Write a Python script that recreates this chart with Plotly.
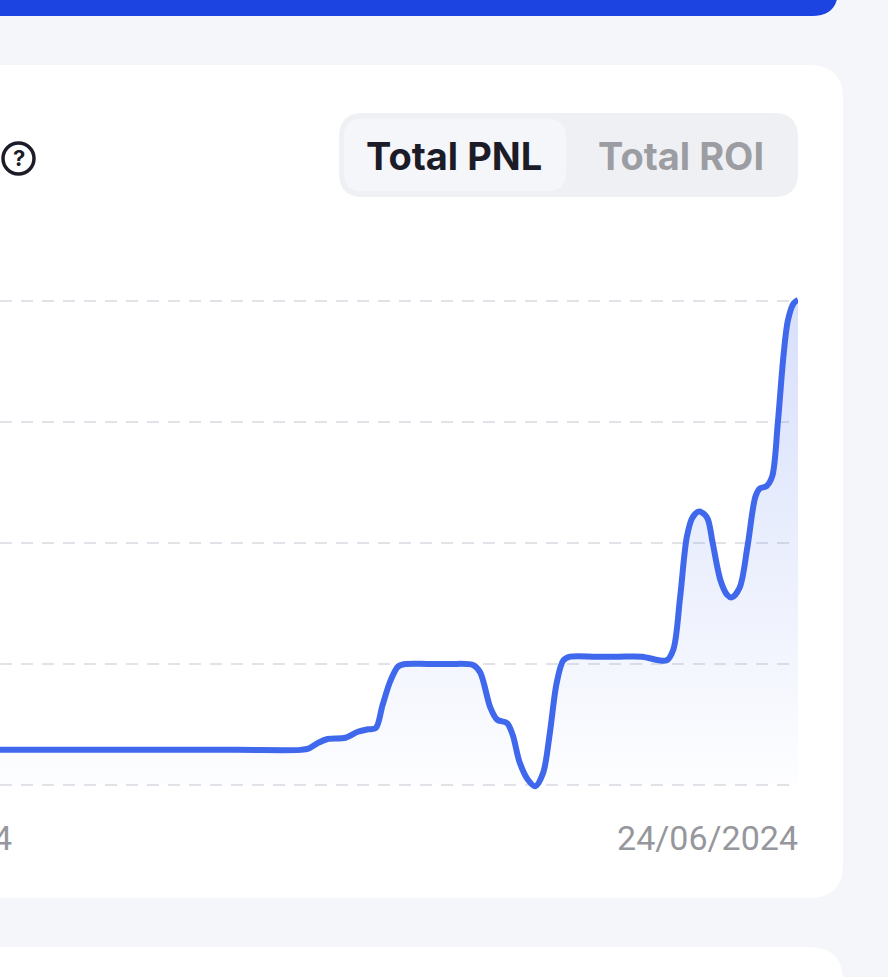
import plotly.graph_objects as go

# days relative to the last date on the axis
days = [-7.11, -6.0, -5.0, -4.43, -4.36, -4.27, -4.19, -4.03, -3.92, -3.83, -3.76, -3.70, -3.63, -3.56, -3.49,
        -3.3, -3.1, -2.89, -2.83, -2.74, -2.68, -2.59, -2.54, -2.48, -2.41, -2.34, -2.27, -2.21, -2.15,
        -2.09, -2.03, -1.8, -1.6, -1.39, -1.17, -1.11, -1.05, -0.99, -0.94, -0.88, -0.81, -0.76, -0.69,
        -0.63, -0.59, -0.52, -0.45, -0.38, -0.34, -0.28, -0.23, -0.18, -0.13, -0.09, -0.04, 0]
pnl = [0.29, 0.29, 0.29, 0.29, 0.30, 0.35, 0.38, 0.39, 0.44, 0.46, 0.47, 0.66, 0.86, 0.98, 1.00,
       1.00, 1.00, 0.99, 0.93, 0.64, 0.54, 0.51, 0.41, 0.19, 0.05, -0.01, 0.10, 0.43, 0.84,
       1.03, 1.06, 1.06, 1.06, 1.06, 1.03, 1.12, 1.55, 2.05, 2.21, 2.26, 2.21, 2.00, 1.69,
       1.57, 1.55, 1.63, 1.97, 2.38, 2.45, 2.47, 2.55, 2.99, 3.54, 3.84, 3.98, 4.01]
grid_vals = [0, 1, 2, 3, 4]
tick_days = [-7, 0]
tick_labels = ["17/06/2024", "24/06/2024"]

W = 888
H = 977


def px(x):
    return x / W


def py(y):
    return 1 - y / H


# rounded box as an svg path in paper coordinates
def box(x0, y0, x1, y1, r, color):
    p = (f"M {px(x0 + r)} {py(y0)} L {px(x1 - r)} {py(y0)} "
         f"Q {px(x1)} {py(y0)} {px(x1)} {py(y0 + r)} L {px(x1)} {py(y1 - r)} "
         f"Q {px(x1)} {py(y1)} {px(x1 - r)} {py(y1)} L {px(x0 + r)} {py(y1)} "
         f"Q {px(x0)} {py(y1)} {px(x0)} {py(y1 - r)} L {px(x0)} {py(y0 + r)} "
         f"Q {px(x0)} {py(y0)} {px(x0 + r)} {py(y0)} Z")
    return dict(type="path", path=p, xref="paper", yref="paper", fillcolor=color,
                line=dict(width=0), layer="below")


shapes = [
    box(-60, -60, 838, 16, 26, "#1c44e0"),
    box(-60, 65, 843, 898, 34, "#ffffff"),
    box(-60, 947, 843, 1100, 34, "#ffffff"),
    box(339, 113, 798, 197, 24, "#eff0f4"),
    box(344, 119, 566, 191, 18, "#f5f6fa"),
    dict(type="circle", xref="paper", yref="paper", x0=px(3), x1=px(34), y0=py(174), y1=py(143),
         line=dict(color="#1c1c28", width=3.5), layer="below"),
]

fig = go.Figure()
fig.add_trace(go.Scatter(
    x=days,
    y=pnl,
    mode="lines",
    line=dict(color="#3f68ec", width=6, shape="spline", smoothing=0.9),
    fill="tozeroy",
    fillgradient=dict(type="vertical",
                      colorscale=[[0, "rgba(63,104,236,0.01)"], [1, "rgba(63,104,236,0.21)"]]),
    hoverinfo="skip",
    showlegend=False,
))

fig.update_layout(
    width=W,
    height=H,
    margin=dict(l=0, r=0, t=0, b=0, autoexpand=False),
    paper_bgcolor="#f5f6fa",
    plot_bgcolor="rgba(0,0,0,0)",
    shapes=shapes,
    xaxis=dict(
        domain=[0, 798 / W],
        range=[-7.107, 0],
        automargin=False,
        showgrid=False,
        zeroline=False,
        showline=False,
        tickvals=tick_days,
        ticktext=tick_labels,
        ticks="",
        ticklabelposition="outside left",
        ticklabeloverflow="allow",
        ticklabelstandoff=20,
        tickfont=dict(family="Roboto", size=34, color="#96979c"),
    ),
    yaxis=dict(
        domain=[py(795), py(290)],
        range=[-0.083, 4.091],
        automargin=False,
        tickvals=grid_vals,
        showticklabels=False,
        zeroline=False,
        showline=False,
        gridcolor="#e2e3e9",
        griddash="12px,9px",
        gridwidth=1.5,
    ),
    annotations=[
        dict(text="<b>Total PNL</b>", x=px(454), y=py(156), xref="paper", yref="paper", showarrow=False,
             xanchor="center", yanchor="middle", font=dict(family="Inter", size=38, color="#1c1c28")),
        dict(text="<b>Total ROI</b>", x=px(680.5), y=py(156), xref="paper", yref="paper", showarrow=False,
             xanchor="center", yanchor="middle", font=dict(family="Inter", size=38, color="#9c9da2")),
        dict(text="<b>?</b>", x=px(18.5), y=py(158.5), xref="paper", yref="paper", showarrow=False,
             xanchor="center", yanchor="middle", font=dict(family="Inter", size=22, color="#1c1c28")),
    ],
)

fig.write_html("out.html", config=dict(displayModeBar=False),
               post_script="document.body.style.margin='0';document.body.style.overflow='hidden';")
